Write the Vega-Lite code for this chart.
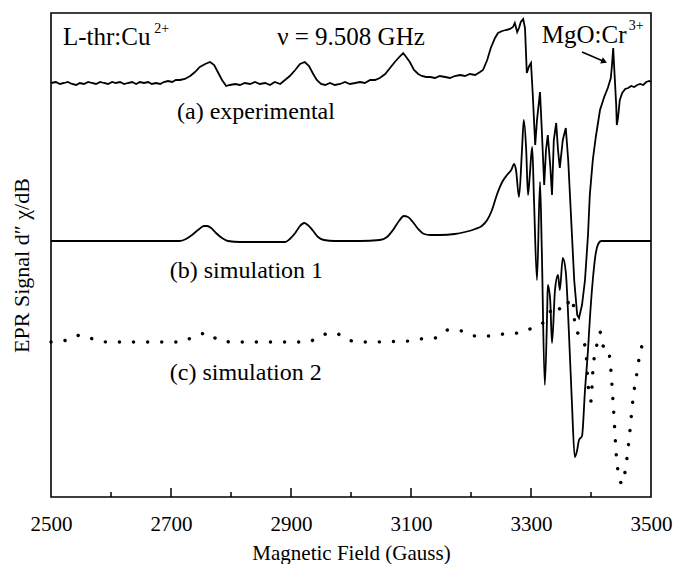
{
  "$schema": "https://vega.github.io/schema/vega-lite/v6.json",
  "width": 600,
  "height": 484,
  "autosize": "none",
  "padding": {"left": 51, "top": 13, "right": 23, "bottom": 67},
  "background": "white",
  "config": {"view": {"stroke": "black", "strokeWidth": 1.6}, "font": "Liberation Serif"},
  "datasets": {
    "exp": [
      {"G":2500,"v":414},{"G":2508,"v":415},{"G":2515,"v":413},{"G":2522,"v":414},{"G":2528,"v":415},{"G":2535,"v":413},{"G":2542,"v":412},{"G":2548,"v":414},{"G":2555,"v":413},{"G":2562,"v":415},{"G":2568,"v":414},{"G":2575,"v":413},{"G":2582,"v":415},{"G":2588,"v":414},{"G":2595,"v":413},{"G":2602,"v":415},{"G":2608,"v":414},{"G":2615,"v":415},{"G":2622,"v":413},{"G":2628,"v":414},{"G":2635,"v":415},{"G":2642,"v":413},{"G":2648,"v":415},{"G":2655,"v":414},{"G":2662,"v":415},{"G":2668,"v":413},{"G":2675,"v":414},{"G":2682,"v":413},{"G":2688,"v":415},{"G":2695,"v":416},{"G":2702,"v":415},{"G":2708,"v":417},{"G":2715,"v":417},{"G":2723,"v":418},{"G":2732,"v":421},{"G":2740,"v":425},{"G":2748,"v":430},{"G":2757,"v":433},{"G":2765,"v":435},{"G":2772,"v":432},{"G":2778,"v":425},{"G":2785,"v":417},{"G":2792,"v":411},{"G":2798,"v":412},{"G":2807,"v":413},{"G":2815,"v":412},{"G":2823,"v":414},{"G":2832,"v":413},{"G":2840,"v":415},{"G":2848,"v":413},{"G":2857,"v":414},{"G":2865,"v":412},{"G":2873,"v":415},{"G":2882,"v":413},{"G":2890,"v":417},{"G":2898,"v":421},{"G":2907,"v":427},{"G":2915,"v":433},{"G":2923,"v":435},{"G":2930,"v":431},{"G":2937,"v":423},{"G":2943,"v":417},{"G":2950,"v":413},{"G":2957,"v":412},{"G":2965,"v":414},{"G":2973,"v":412},{"G":2982,"v":413},{"G":2990,"v":415},{"G":2998,"v":413},{"G":3007,"v":414},{"G":3015,"v":415},{"G":3023,"v":414},{"G":3032,"v":417},{"G":3040,"v":417},{"G":3048,"v":419},{"G":3057,"v":423},{"G":3065,"v":429},{"G":3073,"v":435},{"G":3082,"v":441},{"G":3087,"v":444},{"G":3092,"v":440},{"G":3098,"v":435},{"G":3105,"v":427},{"G":3112,"v":423},{"G":3118,"v":421},{"G":3125,"v":420},{"G":3132,"v":420},{"G":3140,"v":419},{"G":3148,"v":421},{"G":3157,"v":420},{"G":3165,"v":419},{"G":3173,"v":421},{"G":3182,"v":422},{"G":3190,"v":421},{"G":3198,"v":423},{"G":3207,"v":422},{"G":3215,"v":425},{"G":3220,"v":427},{"G":3227,"v":437},{"G":3233,"v":449},{"G":3240,"v":459},{"G":3245,"v":464},{"G":3252,"v":466},{"G":3258,"v":467},{"G":3265,"v":468},{"G":3270,"v":470},{"G":3273,"v":474},{"G":3277,"v":465},{"G":3280,"v":469},{"G":3283,"v":475},{"G":3287,"v":478},{"G":3290,"v":469},{"G":3293,"v":424},{"G":3297,"v":431},{"G":3300,"v":434},{"G":3303,"v":402},{"G":3307,"v":352},{"G":3310,"v":377},{"G":3315,"v":405},{"G":3318,"v":367},{"G":3322,"v":312},{"G":3325,"v":347},{"G":3328,"v":362},{"G":3332,"v":332},{"G":3335,"v":302},{"G":3338,"v":357},{"G":3342,"v":374},{"G":3345,"v":347},{"G":3348,"v":329},{"G":3353,"v":357},{"G":3358,"v":369},{"G":3362,"v":337},{"G":3367,"v":277},{"G":3372,"v":217},{"G":3377,"v":182},{"G":3380,"v":179},{"G":3385,"v":192},{"G":3390,"v":217},{"G":3395,"v":262},{"G":3398,"v":302},{"G":3403,"v":337},{"G":3408,"v":360},{"G":3415,"v":387},{"G":3422,"v":400},{"G":3428,"v":409},{"G":3433,"v":419},{"G":3435,"v":432},{"G":3437,"v":449},{"G":3438,"v":437},{"G":3442,"v":392},{"G":3443,"v":372},{"G":3445,"v":379},{"G":3448,"v":397},{"G":3452,"v":404},{"G":3457,"v":408},{"G":3462,"v":409},{"G":3467,"v":411},{"G":3472,"v":410},{"G":3477,"v":412},{"G":3482,"v":413},{"G":3487,"v":412},{"G":3492,"v":415},{"G":3497,"v":416},{"G":3500,"v":415}
    ],
    "sim1": [
      {"G":2500,"v":256},{"G":2715,"v":256},{"G":2725,"v":258},{"G":2735,"v":262},{"G":2745,"v":267},{"G":2755,"v":271},{"G":2760,"v":271},{"G":2767,"v":269},{"G":2775,"v":264},{"G":2785,"v":259},{"G":2795,"v":256},{"G":2815,"v":255},{"G":2890,"v":255},{"G":2898,"v":258},{"G":2907,"v":264},{"G":2915,"v":271},{"G":2922,"v":274},{"G":2928,"v":272},{"G":2937,"v":266},{"G":2945,"v":260},{"G":2955,"v":257},{"G":2973,"v":256},{"G":3015,"v":256},{"G":3048,"v":257},{"G":3060,"v":260},{"G":3070,"v":267},{"G":3080,"v":276},{"G":3088,"v":281},{"G":3095,"v":280},{"G":3103,"v":275},{"G":3112,"v":268},{"G":3122,"v":263},{"G":3132,"v":262},{"G":3148,"v":262},{"G":3173,"v":263},{"G":3190,"v":265},{"G":3207,"v":268},{"G":3218,"v":271},{"G":3227,"v":277},{"G":3235,"v":287},{"G":3243,"v":302},{"G":3252,"v":315},{"G":3260,"v":322},{"G":3267,"v":327},{"G":3272,"v":333},{"G":3275,"v":327},{"G":3280,"v":300},{"G":3285,"v":347},{"G":3288,"v":377},{"G":3292,"v":347},{"G":3295,"v":302},{"G":3298,"v":322},{"G":3302,"v":350},{"G":3305,"v":297},{"G":3310,"v":217},{"G":3315,"v":315},{"G":3318,"v":247},{"G":3323,"v":112},{"G":3327,"v":187},{"G":3328,"v":212},{"G":3332,"v":197},{"G":3335,"v":154},{"G":3340,"v":207},{"G":3345,"v":222},{"G":3348,"v":207},{"G":3353,"v":239},{"G":3358,"v":225},{"G":3363,"v":167},{"G":3368,"v":97},{"G":3373,"v":40},{"G":3377,"v":47},{"G":3380,"v":57},{"G":3385,"v":61},{"G":3390,"v":107},{"G":3395,"v":147},{"G":3398,"v":177},{"G":3403,"v":217},{"G":3408,"v":244},{"G":3412,"v":253},{"G":3417,"v":256},{"G":3500,"v":256}
    ],
    "sim2": [
      {"G":2500,"v":155},{"G":2527,"v":157},{"G":2550,"v":162},{"G":2570,"v":158},{"G":2595,"v":155},{"G":2715,"v":155},{"G":2737,"v":160},{"G":2760,"v":164},{"G":2782,"v":156},{"G":2807,"v":155},{"G":2927,"v":155},{"G":2952,"v":162},{"G":2973,"v":164},{"G":2995,"v":157},{"G":3018,"v":155},{"G":3098,"v":156},{"G":3115,"v":158},{"G":3140,"v":159},{"G":3162,"v":167},{"G":3185,"v":166},{"G":3208,"v":161},{"G":3230,"v":161},{"G":3255,"v":163},{"G":3278,"v":164},{"G":3302,"v":169},{"G":3325,"v":177},{"G":3340,"v":192},{"G":3353,"v":186},{"G":3368,"v":199},{"G":3372,"v":184},{"G":3373,"v":170},{"G":3378,"v":164},{"G":3388,"v":155},{"G":3392,"v":142},{"G":3395,"v":114},{"G":3400,"v":96},{"G":3403,"v":125},{"G":3410,"v":153},{"G":3415,"v":165},{"G":3420,"v":151},{"G":3428,"v":150},{"G":3432,"v":135},{"G":3437,"v":93},{"G":3443,"v":36},{"G":3448,"v":17},{"G":3452,"v":13},{"G":3457,"v":26},{"G":3463,"v":55},{"G":3470,"v":98},{"G":3477,"v":126},{"G":3482,"v":145},{"G":3487,"v":154},{"G":3492,"v":159}
    ]
  },
  "layer": [
    {
      "data": {"name": "exp"},
      "mark": {"type": "line", "color": "black", "strokeWidth": 1.8},
      "encoding": {
        "x": {"field": "G", "type": "quantitative",
          "scale": {"domain": [2500, 3500], "nice": false, "zero": false},
          "axis": {"values": [2500, 2700, 2900, 3100, 3300, 3500], "format": "d", "ticks": false, "tickSize": 0, "domain": false, "grid": false,
            "labelFont": "Liberation Serif", "labelFontSize": 21, "labelColor": "black", "labelPadding": 33, "labelBaseline": "alphabetic",
            "labelFlush": false, "labelOverlap": false,
            "title": "Magnetic Field (Gauss)", "titleFont": "Liberation Serif", "titleFontSize": 21, "titleFontWeight": "normal",
            "titleColor": "black", "titleY": 62, "titleBaseline": "alphabetic"}},
        "y": {"field": "v", "type": "quantitative",
          "scale": {"domain": [0, 484], "nice": false, "zero": false},
          "axis": {"labels": false, "ticks": false, "domain": false, "grid": false,
            "title": "EPR Signal d″ χ/dB", "titleFont": "Liberation Serif", "titleFontSize": 22, "titleFontWeight": "normal",
            "titleColor": "black", "titleX": -23, "titleY": 252, "titleBaseline": "alphabetic", "titleAngle": 270, "titleAlign": "center"}}
      }
    },
    {
      "data": {"name": "sim1"},
      "mark": {"type": "line", "color": "black", "strokeWidth": 1.8, "interpolate": "monotone"},
      "encoding": {
        "x": {"field": "G", "type": "quantitative"},
        "y": {"field": "v", "type": "quantitative"}
      }
    },
    {
      "data": {"name": "sim2"},
      "mark": {"type": "line", "color": "black", "strokeWidth": 3.4, "interpolate": "monotone", "strokeDash": [0.1, 14], "strokeCap": "round"},
      "encoding": {
        "x": {"field": "G", "type": "quantitative"},
        "y": {"field": "v", "type": "quantitative"}
      }
    },
    {
      "data": {"values": [{"G": 2700}, {"G": 2900}, {"G": 3100}, {"G": 3300}]},
      "mark": {"type": "rule", "color": "black", "strokeWidth": 1.5},
      "encoding": {
        "x": {"field": "G", "type": "quantitative"},
        "y": {"datum": 0, "type": "quantitative"},
        "y2": {"datum": 9}
      }
    },
    {
      "data": {"values": [{"G": 2600}, {"G": 2800}, {"G": 3000}, {"G": 3200}, {"G": 3400}]},
      "mark": {"type": "rule", "color": "black", "strokeWidth": 1.5},
      "encoding": {
        "x": {"field": "G", "type": "quantitative"},
        "y": {"datum": 0, "type": "quantitative"},
        "y2": {"datum": 5}
      }
    },
    {
      "data": {"values": [
        {"G": 2520, "v": 452, "t": "L-thr:Cu"},
        {"G": 2877, "v": 452, "t": "ν = 9.508 GHz"},
        {"G": 3318, "v": 454, "t": "MgO:Cr"}
      ]},
      "mark": {"type": "text", "align": "left", "baseline": "alphabetic", "font": "Liberation Serif", "fontSize": 25, "color": "black"},
      "encoding": {
        "x": {"field": "G", "type": "quantitative"},
        "y": {"field": "v", "type": "quantitative"},
        "text": {"field": "t"}
      }
    },
    {
      "data": {"values": [
        {"G": 2672, "v": 464, "t": "2+"},
        {"G": 3463, "v": 467, "t": "3+"}
      ]},
      "mark": {"type": "text", "align": "left", "baseline": "alphabetic", "font": "Liberation Serif", "fontSize": 14, "color": "black"},
      "encoding": {
        "x": {"field": "G", "type": "quantitative"},
        "y": {"field": "v", "type": "quantitative"},
        "text": {"field": "t"}
      }
    },
    {
      "data": {"values": [
        {"G": 2710, "v": 378, "t": "(a) experimental"},
        {"G": 2698, "v": 219, "t": "(b) simulation 1"},
        {"G": 2698, "v": 117, "t": "(c) simulation 2"}
      ]},
      "mark": {"type": "text", "align": "left", "baseline": "alphabetic", "font": "Liberation Serif", "fontSize": 24, "color": "black"},
      "encoding": {
        "x": {"field": "G", "type": "quantitative"},
        "y": {"field": "v", "type": "quantitative"},
        "text": {"field": "t"}
      }
    },
    {
      "data": {"values": [{"G": 3385, "v": 445, "G2": 3420, "v2": 436}]},
      "mark": {"type": "rule", "color": "black", "strokeWidth": 1.5},
      "encoding": {
        "x": {"field": "G", "type": "quantitative"},
        "y": {"field": "v", "type": "quantitative"},
        "x2": {"field": "G2"},
        "y2": {"field": "v2"}
      }
    },
    {
      "data": {"values": [{"G": 3422, "v": 435.5}]},
      "mark": {"type": "point", "shape": "triangle-up", "filled": true, "color": "black", "size": 45, "angle": 114, "opacity": 1},
      "encoding": {
        "x": {"field": "G", "type": "quantitative"},
        "y": {"field": "v", "type": "quantitative"}
      }
    }
  ]
}
